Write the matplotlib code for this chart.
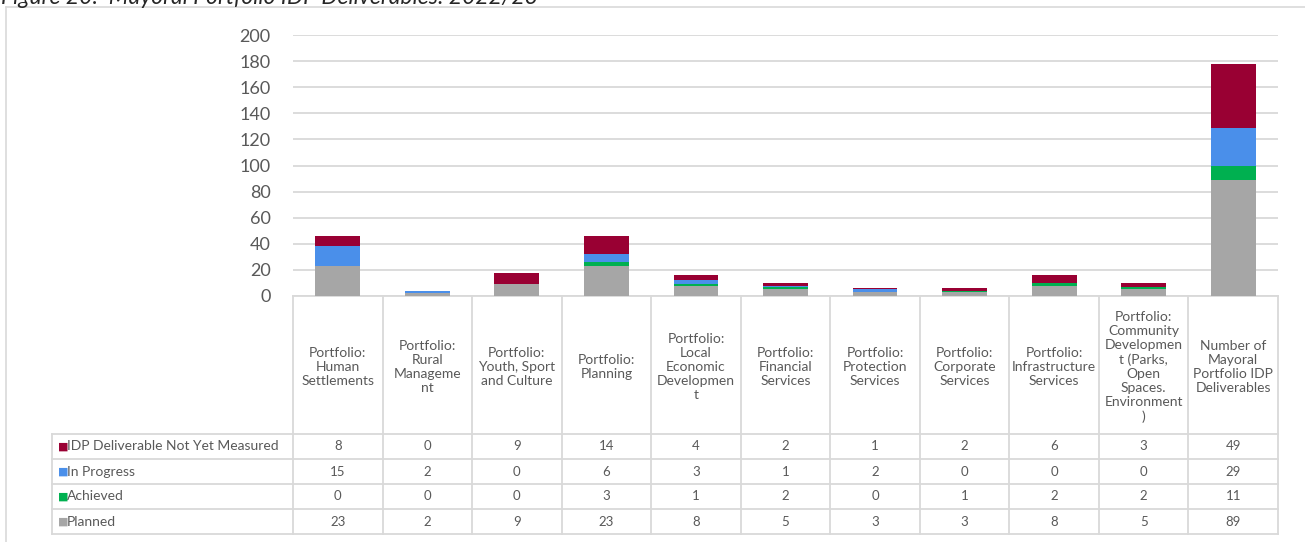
import matplotlib.pyplot as plt
import numpy as np

plt.rcParams['font.family'] = ['Lato', 'DejaVu Sans']

categories = ['Portfolio:\nHuman\nSettlements', 'Portfolio:\nRural\nManageme\nnt',
              'Portfolio:\nYouth, Sport\nand Culture', 'Portfolio:\nPlanning',
              'Portfolio:\nLocal\nEconomic\nDevelopmen\nt', 'Portfolio:\nFinancial\nServices',
              'Portfolio:\nProtection\nServices', 'Portfolio:\nCorporate\nServices',
              'Portfolio:\nInfrastructure\nServices',
              'Portfolio:\nCommunity\nDevelopmen\nt (Parks,\nOpen\nSpaces.\nEnvironment\n)',
              'Number of\nMayoral\nPortfolio IDP\nDeliverables']
planned = [23, 2, 9, 23, 8, 5, 3, 3, 8, 5, 89]
achieved = [0, 0, 0, 3, 1, 2, 0, 1, 2, 2, 11]
in_progress = [15, 2, 0, 6, 3, 1, 2, 0, 0, 0, 29]
not_measured = [8, 0, 9, 14, 4, 2, 1, 2, 6, 3, 49]

# stacking order bottom -> top
series = [('Planned', planned, '#A6A6A6'),
          ('Achieved', achieved, '#00B050'),
          ('In Progress', in_progress, '#4A8FEA'),
          ('IDP Deliverable Not Yet Measured', not_measured, '#990033')]

W, H = 1305, 542
txt = '#595959'
grid = '#D9D9D9'

fig = plt.figure(figsize=(W / 100, H / 100), dpi=100)

# outer chart border (partly visible)
fig.add_artist(plt.Line2D([6 / W, 6 / W], [0, 1 - 7 / H], color=grid, lw=1.2))
fig.add_artist(plt.Line2D([6 / W, 1], [1 - 7 / H, 1 - 7 / H], color=grid, lw=1.2))
fig.text(1 / W, 1 + 3 / H, 'Figure 20:  Mayoral Portfolio IDP Deliverables: 2022/23',
         fontsize=16.5, style='italic', color='#262626', va='center', ha='left')

# plot area
x0, x1, yb, yt = 293, 1278, 296, 35
ax = fig.add_axes([x0 / W, 1 - yb / H, (x1 - x0) / W, (yb - yt) / H])
x = np.arange(len(categories))
bottom = np.zeros(len(categories))
for name, vals, col in series:
    ax.bar(x, vals, 0.5, bottom=bottom, color=col, edgecolor='none', zorder=3)
    bottom += np.array(vals)
ax.set_xlim(-0.5, len(categories) - 0.5)
ax.set_ylim(0, 200)
ax.set_yticks(range(0, 201, 20))
ax.yaxis.grid(True, color=grid, lw=1.3)
ax.set_axisbelow(True)
for s in ['top', 'right', 'left']:
    ax.spines[s].set_visible(False)
ax.spines['bottom'].set_color(grid)
ax.spines['bottom'].set_linewidth(1.3)
ax.tick_params(axis='y', length=0, labelsize=13, labelcolor=txt, pad=16)
ax.tick_params(axis='x', length=0, labelbottom=False)

# data table
tl, tt, tb = 52, 296, 534
colw = (x1 - x0) / len(categories)
lab_left = -0.5 - (x0 - tl) / colw
axt = fig.add_axes([tl / W, 1 - tb / H, (x1 - tl) / W, (tb - tt) / H])
axt.set_xlim(lab_left, len(categories) - 0.5)
axt.set_ylim(tb - tt, 0)
axt.axis('off')
head = 138
rowh = 25
nrow = len(series)
kw = dict(color=grid, lw=1.3, clip_on=False)
for i in range(len(categories) + 1):
    axt.plot([i - 0.5, i - 0.5], [0, head + nrow * rowh], **kw)
axt.plot([lab_left, lab_left], [head, head + nrow * rowh], **kw)
for r in range(nrow + 1):
    axt.plot([lab_left, len(categories) - 0.5], [head + r * rowh] * 2, **kw)

for i, c in enumerate(categories):
    axt.text(i, head / 2 + 2, c, ha='center', va='center', fontsize=10, color=txt,
             linespacing=1.2)

for r, (name, vals, col) in enumerate(series[::-1]):
    yc = head + r * rowh + rowh / 2
    axt.text(lab_left + 0.07, yc, '\u25A0', color=col, fontsize=8, ha='left', va='center',
             family='DejaVu Sans')
    axt.text(lab_left + 0.17, yc, name, color=txt, fontsize=10, ha='left', va='center')
    for i, v in enumerate(vals):
        axt.text(i, yc, str(v), color=txt, fontsize=9.5, ha='center', va='center')

fig.savefig('out.png', dpi=100)
